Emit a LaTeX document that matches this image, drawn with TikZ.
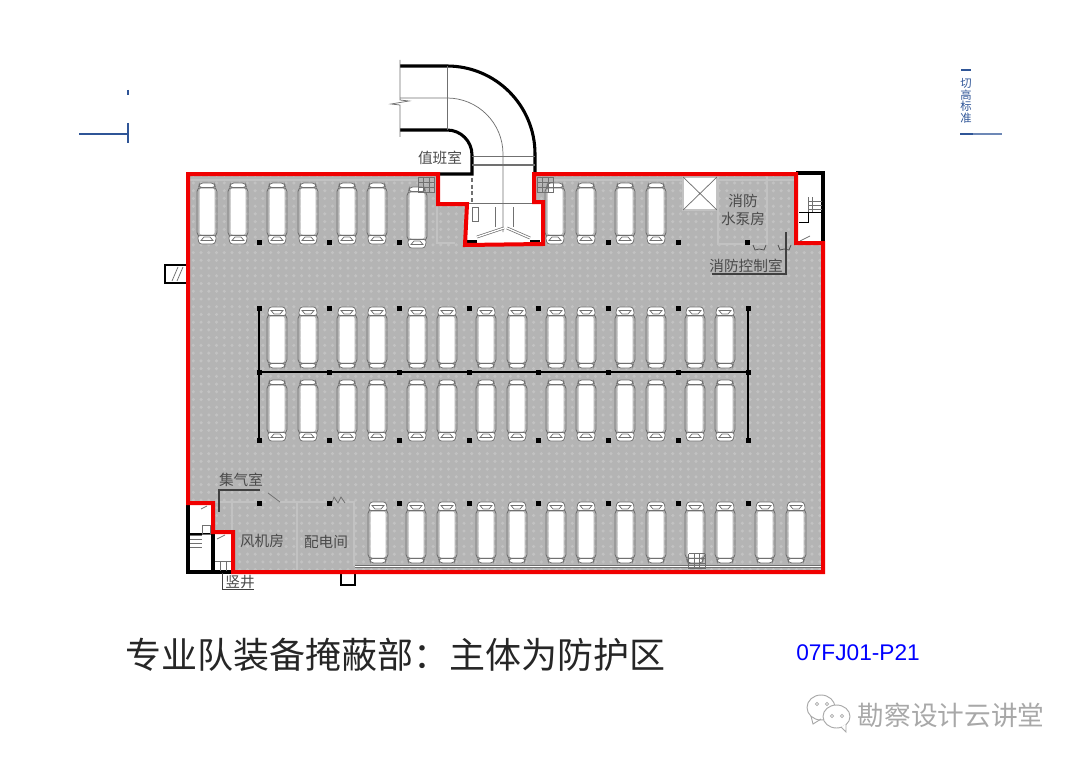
\documentclass[tikz,border=0pt]{standalone}
\usepackage{fontspec}
\setmainfont{Liberation Sans}
\newfontfamily\cjk{Noto Sans CJK SC}
\usetikzlibrary{patterns.meta}
\definecolor{zonegray}{HTML}{B4B4B4}
\definecolor{zonedot}{HTML}{C2C2C2}
\definecolor{edgegray}{HTML}{707070}
\definecolor{planred}{HTML}{F00000}
\definecolor{framenavy}{HTML}{2F5597}
\definecolor{labelgray}{HTML}{4A4A4A}
\definecolor{markgray}{HTML}{A8A8A8}
\begin{document}
\begin{tikzpicture}[x=0.75pt, y=-0.75pt,
    thin line/.style={draw=edgegray, line width=0.55pt},
    wall/.style={draw=edgegray, line width=0.55pt, double=zonedot, double distance=1pt},
    black wall/.style={draw=black, line width=2.3pt},
    leader/.style={draw=black!75, line width=0.8pt},
    frame line/.style={draw=framenavy, line width=0.8pt},
    room/.style={font=\cjk\fontsize{11}{13}\selectfont, text=labelgray, inner sep=0pt, align=center},
    column/.style={fill=black},
    bus/.pic={
        \draw[thin line, line width=0.65pt, rounded corners=3pt] (-10,-26) rectangle (10,23);
        \fill[white, rounded corners=1.5pt] (-7.5,-25) rectangle (7.5,21);
        \draw[thin line, fill=white, rounded corners=2.5pt] (-8.5,-26) -- (-7.5,-30.5) -- (7.5,-30.5) -- (8.5,-26) -- cycle;
        \draw[thin line, fill=white, rounded corners=2pt] (-9.5,22) -- (9.5,22) -- (8,30.5) -- (-8,30.5) -- cycle;
        \draw[thin line] (-6,27) -- (-3,23.5) -- (3,23.5) -- (6,27) -- cycle;
    },
    stairgrid/.pic={
        \foreach \u in {0,5.5,11,16.5} { \draw[thin line] (\u,0) -- (\u,15); }
        \foreach \v in {0,5,10,15} { \draw[thin line] (0,\v) -- (16.5,\v); }
    }
]

%------------------------------------------------
% Parameters
%------------------------------------------------
\def\toprow{207,238,277,308,347,377}
\def\toprowb{555,586,625,656}
\def\midrow{277,308,347,377,417,447,486,517,556,586,625,656,695,725}
\def\lowrow{378,416,447,486,517,556,586,625,656,695,725,765,796}
\def\zonepath{(188,174) -- (438,174) -- (438,204) -- (467,204) -- (465,245) -- (543,244)
    -- (543,202) -- (534,202) -- (534,174) -- (796,174) -- (796,243) -- (823,243)
    -- (823,572) -- (233,572) -- (233,532) -- (213,532) -- (213,503) -- (188,503) -- cycle}

\useasboundingbox (0,0) rectangle (1080,763);

%------------------------------------------------
% Protected zone
%------------------------------------------------
\fill[zonegray] \zonepath;
\fill[pattern={Dots[distance=5.8pt, radius=1.3pt]}, pattern color=zonedot] \zonepath;

%------------------------------------------------
% Ramp
%------------------------------------------------
\draw[black wall] (400,66) -- (447,66) arc[start angle=-90, end angle=0, radius=88] -- (535,174);
\draw[black wall] (400,130) -- (447,130) arc[start angle=-90, end angle=0, radius=25] -- (472,174) -- (438,174);
\draw[thin line] (447,66) -- (447,130);
\draw[thin line] (400,98) -- (447,98) arc[start angle=-90, end angle=0, radius=56] -- (503,232);
\draw[thin line] (400,60) -- (400,100) -- (409,101) -- (391,104) -- (400,105) -- (400,137);
\draw[thin line] (472,156) -- (535,156);
\draw[thin line, line width=0.9pt] (472,165) -- (535,165);
\draw[thin line, line width=1.2pt, densely dashed] (472,178) -- (472,203);
\draw[thin line] (467,203) -- (543,203);
\draw[thin line] (472,207) rectangle (478,221);
\draw[thin line] (495,207) -- (495,227) (513,207) -- (513,227);
\draw[wall, double=white] (504,228) -- (477,237);
\draw[wall, double=white] (507,228) -- (530,238);
\draw[black wall] (467,242) -- (477,242) (530,242) -- (540,242);
\draw[wall] (437,206) -- (437,243) -- (455,243);

%------------------------------------------------
% Strips along the outer walls
%------------------------------------------------
\draw[wall] (190,180) -- (418,180);
\draw[wall] (553,180) -- (794,180);
\draw[wall, double=white] (355,566.5) -- (821,566.5);

%------------------------------------------------
% Rooms on the right
%------------------------------------------------
\draw[wall, fill=white] (683,177) rectangle (717,210);
\draw[thin line] (683,177) -- (717,210) (717,177) -- (683,210);
\draw[wall] (718,176) -- (718,244) -- (767,244) -- (767,176);
\draw[thin line, draw=black!70] (753,245) -- (755,250) -- (759,249) -- (764,250) -- (766,245);
\draw[thin line, draw=black!70] (778,245) -- (780,250) -- (784,249) -- (789,250) -- (791,245);
\draw[leader] (786,232) -- (786,274) -- (712,274);
\draw[black wall] (796,173) -- (823,173) -- (823,243);
\draw[thin line] (808,197) -- (808,212) (812,197) -- (812,212) (808,201) -- (822,201) (808,205) -- (822,205) (808,209) -- (822,209);
\draw[thin line, draw=black] (799,212) -- (822,212) (799,222) -- (808,222) -- (808,212);
\draw[thin line] (800,241) -- (810,236);

%------------------------------------------------
% Rooms on the lower left
%------------------------------------------------
\draw[wall] (213,502) -- (266,502);
\draw[wall] (280,502) -- (354,502) -- (354,566);
\draw[wall] (232,503) -- (232,570);
\draw[wall] (297,503) -- (297,570);
\draw[thin line] (268,493) -- (280,502);
\draw[thin line] (332,503) -- (334,497) -- (338,503) -- (341,497) -- (345,503);
\draw[leader] (260,490) -- (219,490) -- (219,512);
\draw[black wall] (188,503) -- (188,572) -- (233,572);
\draw[black wall] (213,532) -- (213,571);
\draw[black wall, line width=1.1pt] (188,534) -- (213,534);
\draw[thin line] (202,525) rectangle (210,534);
\draw[thin line] (190,535) -- (202,535) (190,539) -- (202,539) (190,543) -- (202,543) (190,547) -- (202,547);
\draw[thin line] (201,509) -- (207,506) (217,539) -- (225,535);
\draw[thin line] (215,561) -- (231,561) (220,561) -- (220,571) (226,561) -- (226,571);
\draw[leader, line width=0.6pt] (222,573) -- (222,589) -- (254,589);
\draw[black wall, line width=1.5pt] (341,574) -- (341,584.5) -- (355,584.5) -- (355,574);

% lean-to on the west wall
\draw[black wall, line width=1.5pt] (188,265) -- (165,265) -- (165,283) -- (188,283);
\draw[thin line] (172,281) -- (178,267) (177,281) -- (183,267);

%------------------------------------------------
% Columns
%------------------------------------------------
\foreach \x in {259,329,399,608,678,747} {
    \fill[column] (\x-2.5,239.5) rectangle (\x+2.5,244.5);
}
\foreach \x in {259,329,399,469,538,608,678,748} {
    \fill[column] (\x-2.5,305.5) rectangle (\x+2.5,310.5);
    \fill[column] (\x-2.5,369.5) rectangle (\x+2.5,374.5);
    \fill[column] (\x-2.5,437.5) rectangle (\x+2.5,442.5);
    \fill[column] (\x-2.5,500.5) rectangle (\x+2.5,505.5);
}
\draw[black, line width=0.9pt] (259,308) -- (259,440) (748,308) -- (748,440);
\draw[black, line width=1.3pt] (259,372) -- (748,372);

%------------------------------------------------
% Parked vehicles
%------------------------------------------------
\foreach \x in \toprow { \pic at (\x,213.5) {bus}; }
\foreach \x in \toprowb { \pic at (\x,213.5) {bus}; }
\pic at (417,217.5) {bus};
\foreach \x in \midrow {
    \pic[yscale=-1] at (\x,337.5) {bus};
    \pic at (\x,410.5) {bus};
}
\foreach \x in \lowrow { \pic[yscale=-1] at (\x,532.5) {bus}; }

%------------------------------------------------
% Small stairs
%------------------------------------------------
\pic at (418,177) {stairgrid};
\pic at (537,177) {stairgrid};
\pic at (688.5,553.5) {stairgrid};

%------------------------------------------------
% Boundary of the protected zone
%------------------------------------------------
\draw[planred, line width=3pt, miter limit=4] \zonepath;

%------------------------------------------------
% Room labels
%------------------------------------------------
\node[room] (duty) at (440,158) {值班室};
\node[room] (pump) at (743,210) {消防\\水泵房};
\node[room] (control) at (746,266) {消防控制室};
\node[room] (plenum) at (241,480) {集气室};
\node[room] (fan) at (262,541) {风机房};
\node[room] (power) at (326,542) {配电间};
\node[room] (shaft) at (240,582) {竖井};

%------------------------------------------------
% Page furniture
%------------------------------------------------
\draw[frame line] (79,134) -- (128,134);
\draw[frame line] (128,123) -- (128,143);
\draw[frame line] (128,90) -- (128,95);
\draw[frame line] (961,70) -- (971,70);
\node[font=\cjk\fontsize{8.5}{8.8}\selectfont, text=framenavy, inner sep=0pt, align=center] (cut) at (966,101) {切\\高\\标\\准};
\draw[frame line, line width=2pt] (960,134) -- (973,134);
\draw[frame line, draw=framenavy!70] (973,134) -- (1002,134);

\node[font=\cjk\fontsize{27}{30}\selectfont, text=black!85, inner sep=0pt] (title) at (395,655) {专业队装备掩蔽部：主体为防护区};
\node[font=\fontsize{17}{20}\selectfont, text=blue, inner sep=0pt] (code) at (858,653) {07FJ01-P21};

%------------------------------------------------
% Watermark
%------------------------------------------------
\draw[draw=markgray, fill=white, line width=0.7pt] (821,707.5) ellipse[x radius=14, y radius=12.5];
\draw[draw=markgray, line width=0.7pt] (811,716) -- (813,724) -- (821,719);
\draw[draw=markgray, fill=white, line width=0.7pt] (836.5,716.5) ellipse[x radius=13.5, y radius=11.5];
\draw[draw=markgray, fill=white, line width=0.7pt] (841,727) -- (846,732) -- (846,724);
\foreach \x/\y in {817/704,827/704,832/716,842/716} {
    \draw[draw=markgray, line width=0.6pt] (\x,\y) circle[radius=1.6];
}
\node[font=\cjk\fontsize{20}{24}\selectfont, text=markgray, inner sep=0pt] (mark) at (951,715) {勘察设计云讲堂};

\end{tikzpicture}
\end{document}
